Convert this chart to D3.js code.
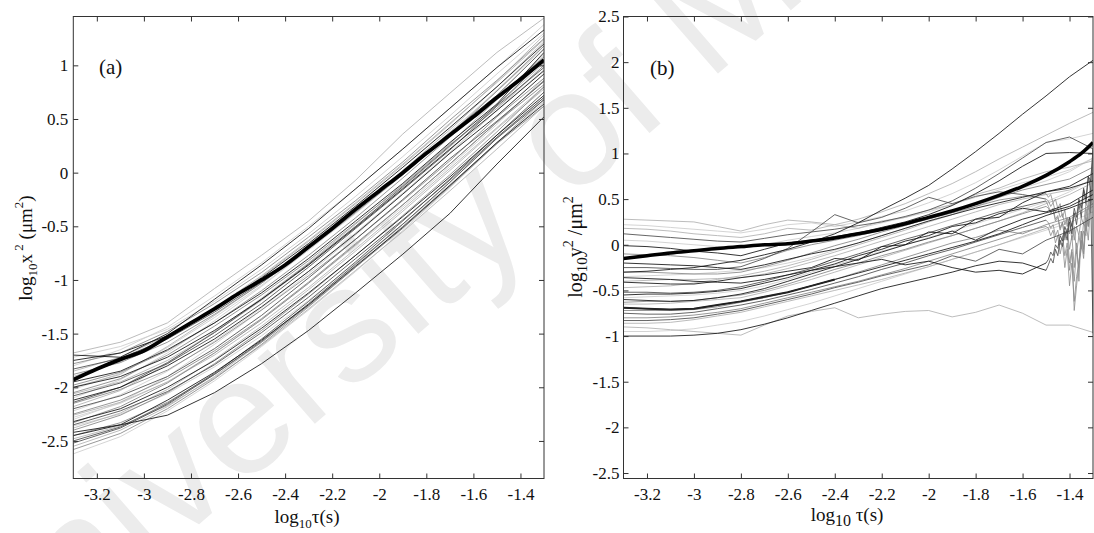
<!DOCTYPE html>
<html><head><meta charset="utf-8">
<script src="https://cdn.jsdelivr.net/npm/d3@7"></script>
<style>
body{margin:0;background:#fff} svg{display:block}
</style>
</head><body>
<svg id="c" width="1094" height="533"></svg>
<script>
// ---------------- data ----------------
const xTicks = [-3.2,-3,-2.8,-2.6,-2.4,-2.2,-2,-1.8,-1.6,-1.4];
const yTicksA = [1,0.5,0,-0.5,-1,-1.5,-2,-2.5];
const yTicksB = [2.5,2,1.5,1,0.5,0,-0.5,-1,-1.5,-2,-2.5];

const xGridA = [-3.3,-3.1,-2.9,-2.7,-2.5,-2.3,-2.1,-1.9,-1.7,-1.5,-1.3];
const tracksA = [
  [-1.68,-1.58,-1.40,-1.08,-0.77,-0.45,-0.07,0.36,0.74,1.12,1.44],
  [-1.70,-1.72,-1.50,-1.18,-0.86,-0.52,-0.15,0.22,0.60,0.98,1.33],
  [-1.78,-1.68,-1.48,-1.22,-0.93,-0.60,-0.26,0.10,0.49,0.86,1.25],
  [-1.80,-1.65,-1.44,-1.15,-0.84,-0.50,-0.15,0.22,0.60,0.98,1.38],
  [-1.83,-1.73,-1.55,-1.30,-1.02,-0.70,-0.36,0.00,0.37,0.72,1.15],
  [-1.95,-1.85,-1.65,-1.40,-1.12,-0.80,-0.45,-0.10,0.28,0.64,1.12],
  [-2.00,-1.88,-1.62,-1.33,-1.03,-0.70,-0.35,0.02,0.40,0.80,1.22],
  [-2.05,-1.92,-1.70,-1.43,-1.14,-0.82,-0.47,-0.12,0.26,0.60,1.00],
  [-2.08,-1.96,-1.78,-1.52,-1.22,-0.88,-0.52,-0.16,0.21,0.62,0.98],
  [-2.10,-1.93,-1.68,-1.38,-1.06,-0.72,-0.38,-0.02,0.36,0.77,1.18],
  [-2.12,-2.00,-1.80,-1.55,-1.25,-0.92,-0.57,-0.20,0.18,0.53,0.92],
  [-2.15,-2.02,-1.84,-1.58,-1.28,-0.96,-0.62,-0.26,0.11,0.52,0.88],
  [-2.18,-2.03,-1.78,-1.48,-1.17,-0.84,-0.48,-0.11,0.27,0.68,1.10],
  [-2.20,-2.08,-1.90,-1.64,-1.33,-0.98,-0.62,-0.25,0.13,0.48,0.85],
  [-2.25,-2.12,-1.92,-1.66,-1.36,-1.02,-0.66,-0.30,0.08,0.47,0.82],
  [-2.28,-2.15,-1.95,-1.68,-1.37,-1.03,-0.68,-0.32,0.06,0.45,0.88],
  [-2.32,-2.20,-2.00,-1.75,-1.45,-1.12,-0.77,-0.41,-0.04,0.35,0.72],
  [-2.35,-2.22,-2.04,-1.79,-1.49,-1.16,-0.80,-0.44,-0.07,0.33,0.70],
  [-2.38,-2.24,-2.02,-1.74,-1.43,-1.09,-0.73,-0.36,0.02,0.41,0.78],
  [-2.42,-2.35,-2.12,-1.86,-1.56,-1.23,-0.87,-0.51,-0.12,0.28,0.64],
  [-2.45,-2.33,-2.14,-1.88,-1.58,-1.24,-0.88,-0.52,-0.13,0.27,0.62],
  [-2.45,-2.35,-2.26,-2.05,-1.78,-1.47,-1.12,-0.76,-0.38,0.08,0.52],
  [-2.55,-2.40,-2.18,-1.90,-1.58,-1.23,-0.86,-0.48,-0.09,0.32,0.70],
  [-2.62,-2.46,-2.22,-1.94,-1.62,-1.28,-0.92,-0.54,-0.14,0.27,0.66],
  [-2.52,-2.38,-2.16,-1.88,-1.57,-1.22,-0.85,-0.48,-0.09,0.32,0.68],
  [-1.88,-1.77,-1.58,-1.32,-1.03,-0.71,-0.37,-0.02,0.35,0.76,1.18],
  [-1.90,-1.76,-1.54,-1.27,-0.97,-0.64,-0.29,0.07,0.45,0.85,1.28],
  [-2.00,-1.90,-1.72,-1.47,-1.18,-0.86,-0.51,-0.15,0.22,0.58,0.95],
  [-2.30,-2.14,-1.90,-1.60,-1.28,-0.94,-0.58,-0.20,0.18,0.58,1.00],
  [-2.40,-2.26,-2.05,-1.78,-1.47,-1.13,-0.77,-0.40,-0.02,0.38,0.80],
  [-1.72,-1.62,-1.46,-1.20,-0.90,-0.57,-0.22,0.15,0.53,0.92,1.30],
  [-1.85,-1.72,-1.52,-1.26,-0.96,-0.63,-0.28,0.08,0.46,0.84,1.24],
  [-1.98,-1.86,-1.66,-1.40,-1.10,-0.77,-0.42,-0.05,0.33,0.70,1.08],
  [-2.02,-1.87,-1.63,-1.35,-1.05,-0.72,-0.37,0.00,0.38,0.76,1.16],
  [-2.06,-1.95,-1.75,-1.49,-1.19,-0.86,-0.50,-0.14,0.24,0.63,1.02],
  [-2.14,-2.00,-1.77,-1.49,-1.18,-0.85,-0.50,-0.13,0.25,0.63,1.05],
  [-2.22,-2.07,-1.85,-1.57,-1.26,-0.92,-0.56,-0.19,0.19,0.58,0.96],
  [-2.26,-2.14,-1.95,-1.70,-1.40,-1.07,-0.71,-0.34,0.04,0.42,0.80],
  [-2.33,-2.18,-1.96,-1.68,-1.37,-1.03,-0.67,-0.30,0.08,0.47,0.86],
  [-2.36,-2.25,-2.06,-1.81,-1.52,-1.19,-0.84,-0.48,-0.11,0.27,0.66],
  [-2.48,-2.36,-2.17,-1.91,-1.61,-1.27,-0.91,-0.55,-0.17,0.22,0.62],
  [-2.50,-2.37,-2.15,-1.87,-1.55,-1.20,-0.83,-0.45,-0.06,0.35,0.75],
  [-2.58,-2.43,-2.20,-1.92,-1.60,-1.25,-0.88,-0.50,-0.12,0.28,0.68],
  [-1.75,-1.68,-1.52,-1.27,-0.98,-0.66,-0.31,0.05,0.42,0.80,1.20]
];
const xMeanA = [-3.3,-3.2,-3.1,-3.0,-2.9,-2.8,-2.7,-2.6,-2.5,-2.4,-2.3,-2.2,-2.1,-2.0,-1.9,-1.8,-1.7,-1.6,-1.5,-1.4,-1.3];
const meanA  = [-1.93,-1.83,-1.74,-1.66,-1.53,-1.40,-1.27,-1.13,-1.00,-0.86,-0.69,-0.52,-0.34,-0.17,0.00,0.18,0.35,0.52,0.70,0.87,1.05];

const xGridB = [-3.3,-3.2,-3.1,-3.0,-2.9,-2.8,-2.7,-2.6,-2.5,-2.4,-2.3,-2.2,-2.1,-2.0,-1.9,-1.8,-1.7,-1.6,-1.5,-1.4,-1.3];
const tracksB = [
  [0.28,0.27,0.26,0.25,0.20,0.15,0.22,0.27,0.25,0.22,0.28,0.36,0.45,0.56,0.67,0.80,0.94,1.07,1.20,1.33,1.45],
  [0.22,0.21,0.19,0.17,0.15,0.13,0.17,0.22,0.24,0.20,0.25,0.31,0.37,0.46,0.56,0.68,0.82,0.97,1.12,1.16,1.22],
  [0.12,0.10,0.08,0.06,0.04,0.03,0.07,0.11,0.14,0.17,0.21,0.25,0.31,0.38,0.48,0.62,0.78,0.95,1.12,1.18,1.05],
  [-0.01,-0.02,-0.04,-0.07,-0.09,-0.12,-0.05,0.02,0.05,0.09,0.13,0.19,0.25,0.33,0.43,0.56,0.70,0.86,1.00,1.01,1.00],
  [-0.25,-0.25,-0.26,-0.27,-0.27,-0.24,-0.15,-0.04,0.14,0.33,0.24,0.30,0.40,0.52,0.45,0.53,0.58,0.55,0.50],
  [-0.30,-0.30,-0.31,-0.32,-0.32,-0.30,-0.24,-0.17,-0.09,-0.01,0.06,0.14,0.21,0.29,0.35,0.42,0.49,0.53,0.56],
  [-0.41,-0.42,-0.43,-0.43,-0.40,-0.36,-0.33,-0.29,-0.25,-0.15,-0.17,-0.02,0.00,0.14,0.12,0.28,0.30,0.46,0.58,0.64,0.78],
  [-0.47,-0.46,-0.45,-0.42,-0.38,-0.34,-0.29,-0.23,-0.16,-0.08,0.00,0.08,0.16,0.25,0.33,0.42,0.52,0.64,0.76,0.90,1.08],
  [-0.52,-0.52,-0.53,-0.52,-0.50,-0.46,-0.40,-0.33,-0.26,-0.18,-0.10,-0.02,0.06,0.13,0.21,0.28,0.36,0.42,0.48],
  [-0.58,-0.57,-0.56,-0.55,-0.53,-0.50,-0.45,-0.38,-0.30,-0.22,-0.15,-0.07,0.00,0.08,0.15,0.23,0.31,0.39,0.47,0.58,0.72],
  [-0.63,-0.62,-0.62,-0.61,-0.58,-0.55,-0.50,-0.43,-0.35,-0.27,-0.20,-0.12,-0.05,0.03,0.10,0.18,0.26,0.34,0.42],
  [-0.69,-0.70,-0.71,-0.70,-0.66,-0.62,-0.57,-0.52,-0.45,-0.38,-0.31,-0.24,-0.17,-0.10,-0.03,0.04,0.12,0.22,0.32,0.40,0.50],
  [-0.75,-0.76,-0.76,-0.74,-0.70,-0.66,-0.61,-0.55,-0.49,-0.42,-0.35,-0.27,-0.20,-0.12,-0.05,0.03,0.11,0.19,0.27],
  [-0.80,-0.80,-0.79,-0.77,-0.74,-0.70,-0.64,-0.58,-0.52,-0.46,-0.40,-0.33,-0.26,-0.18,-0.10,-0.02,0.06,0.14,0.20],
  [-0.86,-0.86,-0.85,-0.82,-0.78,-0.74,-0.68,-0.62,-0.56,-0.50,-0.44,-0.38,-0.31,-0.24,-0.16,-0.08,0.00,0.09,0.18,0.28,0.42],
  [-0.90,-0.91,-0.93,-0.95,-0.97,-0.99,-0.88,-0.78,-0.73,-0.69,-0.80,-0.76,-0.73,-0.72,-0.79,-0.74,-0.66,-0.75,-0.88,-0.88,-0.96],
  [-1.00,-1.00,-1.00,-0.99,-0.97,-0.93,-0.87,-0.80,-0.72,-0.64,-0.56,-0.48,-0.42,-0.36,-0.30,-0.23,-0.18,-0.20,-0.28],
  [-0.36,-0.37,-0.38,-0.40,-0.41,-0.42,-0.38,-0.33,-0.28,-0.24,-0.20,-0.16,-0.22,-0.18,-0.25,-0.30,-0.28,-0.32,-0.20],
  [-0.20,-0.21,-0.22,-0.23,-0.25,-0.27,-0.22,-0.16,-0.10,-0.05,0.02,0.10,0.18,0.26,0.33,0.40,0.46,0.52,0.58,0.62,0.70],
  [-0.35,-0.34,-0.33,-0.32,-0.30,-0.28,-0.25,-0.20,-0.14,-0.06,0.02,0.10,0.18,0.26,0.35,0.44,0.53,0.62,0.70,0.80,0.95],
  [-0.65,-0.65,-0.64,-0.62,-0.60,-0.58,-0.52,-0.45,-0.38,-0.30,-0.22,-0.14,-0.06,0.02,0.10,0.18,0.26,0.35,0.45,0.55,0.68],
  [-0.95,-0.95,-0.94,-0.92,-0.88,-0.84,-0.78,-0.71,-0.64,-0.56,-0.48,-0.40,-0.32,-0.24,-0.16,-0.08,0.00,0.08,0.16,0.24,0.36],
  [-0.30,-0.29,-0.27,-0.25,-0.21,-0.17,-0.11,-0.05,0.03,0.12,0.24,0.38,0.51,0.65,0.83,1.02,1.22,1.43,1.63,1.84,2.02],
  [0.18,0.17,0.15,0.12,0.10,0.08,0.12,0.18,0.16,0.22,0.18,0.26,0.30,0.38,0.44,0.55,0.62,0.72,0.80,0.85,0.92],
  [-0.10,-0.11,-0.12,-0.14,-0.17,-0.20,-0.14,-0.06,0.00,0.05,0.10,0.16,0.22,0.28,0.36,0.44,0.52,0.60,0.66,0.72,0.85],
  [-0.55,-0.54,-0.54,-0.53,-0.51,-0.48,-0.42,-0.36,-0.28,-0.21,-0.12,-0.05,0.04,0.10,0.20,0.24,0.34,0.40,0.36,0.45,0.60],
  [-0.72,-0.72,-0.72,-0.71,-0.68,-0.63,-0.58,-0.52,-0.45,-0.38,-0.30,-0.22,-0.14,-0.06,0.02,0.08,0.16,0.12,0.22,0.30,0.45],
  [-0.83,-0.83,-0.82,-0.80,-0.76,-0.72,-0.66,-0.60,-0.54,-0.47,-0.41,-0.34,-0.28,-0.22,-0.12,-0.18,-0.05,-0.10,0.05,0.15,0.30],
  [-0.60,-0.61,-0.62,-0.61,-0.58,-0.54,-0.48,-0.40,-0.32,-0.24,-0.16,-0.08,0.00,0.07,0.15,0.05,0.18,0.28,0.35,0.42,0.55],
  [-0.40,-0.39,-0.38,-0.38,-0.37,-0.36,-0.32,-0.26,-0.19,-0.12,-0.04,0.04,0.12,0.20,0.28,0.36,0.44,0.50,0.55,0.60,0.72],
  [0.05,0.04,0.02,0.00,-0.02,-0.04,0.00,0.05,0.09,0.13,0.18,0.24,0.30,0.36,0.44,0.52,0.60,0.68,0.74,0.82,0.95]
];
const xTailB = [-1.49,-1.48,-1.47,-1.46,-1.45,-1.44,-1.43,-1.42,-1.41,-1.40,-1.39,-1.38,-1.37,-1.36,-1.35,-1.34,-1.33,-1.32,-1.31,-1.30];
const tailTrackB = [4,5,8,10,12,13,16,17];
const tailsB = [
  [0.48,0.42,0.46,0.36,0.40,0.30,0.34,0.22,0.30,0.12,0.24,0.05,0.20,0.10,0.30,0.22,0.45,0.40,0.70,0.95],
  [0.52,0.55,0.46,0.50,0.40,0.45,0.30,0.38,0.20,0.30,0.05,0.20,-0.10,0.10,-0.05,0.25,0.15,0.50,0.45,0.85],
  [0.42,0.36,0.40,0.28,0.32,0.18,0.25,0.05,0.15,-0.20,-0.05,-0.72,-0.45,-0.20,-0.05,0.15,0.10,0.40,0.35,0.75],
  [0.40,0.34,0.38,0.26,0.30,0.16,0.24,0.08,0.18,-0.05,0.10,-0.25,0.02,-0.40,0.15,-0.10,0.40,0.20,0.60,1.05],
  [0.24,0.18,0.22,0.10,0.16,0.00,0.10,-0.12,0.02,-0.28,-0.08,-0.40,-0.05,-0.25,0.15,-0.05,0.30,0.20,0.55,0.90],
  [0.18,0.10,0.16,0.02,0.10,-0.10,0.02,-0.25,-0.05,-0.45,-0.20,-0.62,-0.35,-0.20,0.05,-0.15,0.25,0.05,0.45,0.80],
  [-0.22,-0.15,-0.20,-0.05,-0.12,0.05,-0.02,0.15,0.05,0.25,0.12,0.35,0.22,0.45,0.30,0.60,0.45,0.75,0.60,-0.97],
  [-0.16,-0.08,-0.12,0.00,-0.04,0.10,0.04,0.20,0.12,0.30,0.20,0.40,0.30,0.50,0.40,0.62,0.50,0.75,0.70,1.05]
];
const xMeanB = [-3.3,-3.2,-3.1,-3.0,-2.9,-2.8,-2.7,-2.6,-2.5,-2.4,-2.3,-2.2,-2.1,-2.0,-1.9,-1.8,-1.7,-1.6,-1.5,-1.4,-1.35,-1.3];
const meanB  = [-0.15,-0.12,-0.09,-0.065,-0.04,-0.02,0.0,0.01,0.04,0.075,0.12,0.17,0.23,0.30,0.37,0.45,0.54,0.64,0.76,0.91,1.0,1.12];

// ---------------- styles ----------------
const palette = ["#111111","#4a4a4a","#858585","#b0b0b0","#cccccc"];
const toneA = [3,0,2,4,1,0,3,2,1,4,0,2,3,1,2,4,0,1,3,0,2,0,3,4,1,2,3,0,4,2, 4,3,2,4,3,1,4,3,2,4,3,1,2,0];
const toneB = [3,4,1,0,1,2,0,3,1,4,2,0,1,2,3,3,0,0,0,4,3,4,0, 3,2,0,2,1,0,3,4];
const boldTrackB = 11, boldUntil = 10;
const FONT = "'Liberation Serif','Times New Roman',serif";

const svg = d3.select("#c");
const PA = {l:73.3, r:544, t:16.5, b:478.5};
const PB = {l:623.5, r:1093, t:16.5, b:478.5};
const xA = d3.scaleLinear().domain([-3.3,-1.3]).range([PA.l, PA.r]);
const yA = d3.scaleLinear().domain([-2.85,1.455]).range([PA.b, PA.t]);
const xB = d3.scaleLinear().domain([-3.3,-1.3]).range([PB.l, PB.r]);
const yB = d3.scaleLinear().domain([-2.56,2.5]).range([PB.b, PB.t]);

// faint watermark of the source document
svg.append("text")
  .attr("transform","translate(-12,708) rotate(-41)")
  .attr("font-family","'Liberation Sans',Arial,sans-serif")
  .attr("font-size",165).attr("fill","#ececec")
  .text("University of Malaya");

const defs = svg.append("defs");
[["clipA",PA],["clipB",PB]].forEach(([id,P])=>{
  defs.append("clipPath").attr("id",id).append("rect")
    .attr("x",P.l).attr("y",P.t).attr("width",P.r-P.l).attr("height",P.b-P.t);
});

function drawPanel(P, x, y, yTicks, padL){
  const g = svg.append("g");
  const fmt = d => String(d);
  const ax = g.append("g").attr("transform",`translate(0,${P.b})`)
    .call(d3.axisBottom(x).tickValues(xTicks).tickSizeInner(-5).tickSizeOuter(0).tickPadding(9.5).tickFormat(fmt));
  const at = g.append("g").attr("transform",`translate(0,${P.t})`)
    .call(d3.axisTop(x).tickValues(xTicks).tickSizeInner(-5).tickSizeOuter(0).tickFormat(""));
  const ay = g.append("g").attr("transform",`translate(${P.l},0)`)
    .call(d3.axisLeft(y).tickValues(yTicks).tickSizeInner(-5).tickSizeOuter(0).tickPadding(padL).tickFormat(fmt));
  const ar = g.append("g").attr("transform",`translate(${P.r},0)`)
    .call(d3.axisRight(y).tickValues(yTicks).tickSizeInner(-5).tickSizeOuter(0).tickFormat(""));
  [ax,at,ay,ar].forEach(a=>{
    a.attr("font-family",FONT).attr("font-size",17);
    a.select(".domain").remove();
    a.selectAll("line").attr("stroke","#333").attr("stroke-width",1);
    a.selectAll("text").attr("fill","#111");
  });
  g.append("rect").attr("x",P.l).attr("y",P.t).attr("width",P.r-P.l).attr("height",P.b-P.t)
    .attr("fill","none").attr("stroke","#333").attr("stroke-width",1);
}

const lin = (x,y) => d3.line().x(d=>x(d[0])).y(d=>y(d[1])).curve(d3.curveLinear);
const smooth = (x,y) => d3.line().x(d=>x(d[0])).y(d=>y(d[1])).curve(d3.curveMonotoneX);

const gA = svg.append("g").attr("clip-path","url(#clipA)");
const orderA = d3.range(tracksA.length).sort((a,b)=>toneA[b]-toneA[a]);
orderA.forEach(i=>{
  const pts = tracksA[i].map((v,j)=>[xGridA[j], v]);
  gA.append("path").attr("d",lin(xA,yA)(pts)).attr("fill","none")
    .attr("stroke",palette[toneA[i]]).attr("stroke-width",0.85);
});
gA.append("path").attr("d",smooth(xA,yA)(meanA.map((v,j)=>[xMeanA[j],v])))
  .attr("fill","none").attr("stroke","#000").attr("stroke-width",3.8);

const gB = svg.append("g").attr("clip-path","url(#clipB)");
const orderB = d3.range(tracksB.length).sort((a,b)=>toneB[b]-toneB[a]);
orderB.forEach(i=>{
  let pts = tracksB[i].map((v,j)=>[xGridB[j], v]);
  const k = tailTrackB.indexOf(i);
  if(k>=0){
    gB.append("path").attr("d",lin(xB,yB)([pts[pts.length-1]].concat(tailsB[k].map((v,j)=>[xTailB[j], v]))))
      .attr("fill","none").attr("stroke", toneB[i]===0 ? "#444" : "#8a8a8a").attr("stroke-width",0.8);
  }
  gB.append("path").attr("d",lin(xB,yB)(pts)).attr("fill","none")
    .attr("stroke", palette[toneB[i]]).attr("stroke-width",0.85);
  if(i===boldTrackB){
    gB.append("path").attr("d",lin(xB,yB)(pts.slice(0,boldUntil))).attr("fill","none")
      .attr("stroke","#222").attr("stroke-width",2);
  }
});
gB.append("path").attr("d",smooth(xB,yB)(meanB.map((v,j)=>[xMeanB[j],v])))
  .attr("fill","none").attr("stroke","#000").attr("stroke-width",3.5);

drawPanel(PA, xA, yA, yTicksA, 5);
drawPanel(PB, xB, yB, yTicksB, 4);

svg.append("text").attr("font-family",FONT).attr("x",99).attr("y",74).attr("font-size",21).attr("fill","#111").text("(a)");
svg.append("text").attr("font-family",FONT).attr("x",650).attr("y",75).attr("font-size",21).attr("fill","#111").text("(b)");

function rich(sel, parts){
  parts.forEach(p=>{ sel.append("tspan").attr("dy",p[1]).attr("font-size",p[2]).text(p[0]); });
}
const lxa = svg.append("text").attr("font-family",FONT).attr("x",307).attr("y",523).attr("text-anchor","middle").attr("fill","#111");
rich(lxa, [["log",0,19],["10",5,13],["τ(s)",-5,19]]);
const lxb = svg.append("text").attr("font-family",FONT).attr("x",847).attr("y",521).attr("text-anchor","middle").attr("fill","#111");
rich(lxb, [["log",0,19],["10",5,16],[" τ(s)",-5,19]]);
const lya = svg.append("text").attr("font-family",FONT).attr("transform","translate(32,248) rotate(-90)").attr("text-anchor","middle").attr("fill","#111");
rich(lya, [["log",0,19],["10",5,13],["x",-5,19],[" 2",-9,13],[" (μm",9,19],["2",-9,13],[")",9,19]]);
const lyb = svg.append("text").attr("font-family",FONT).attr("transform","translate(582,247) rotate(-90)").attr("text-anchor","middle").attr("fill","#111");
rich(lyb, [["log",0,20],["10",5,15],["y",-5,20],["2",-9,14],[" /μm",9,20],["2",-9,14]]);
</script>
</body></html>
